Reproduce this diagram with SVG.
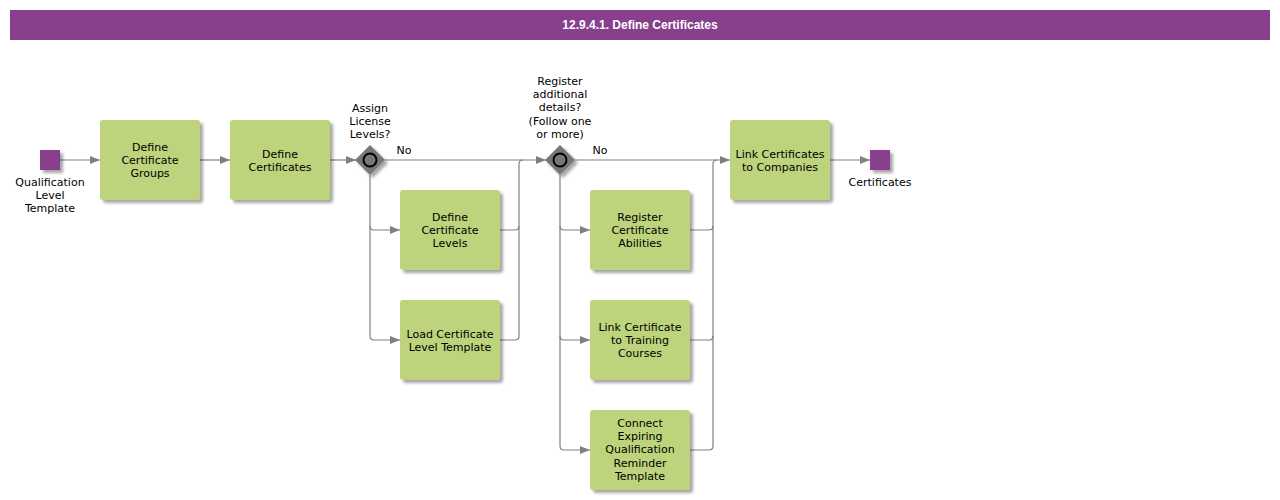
<svg xmlns="http://www.w3.org/2000/svg" width="1280" height="500" viewBox="0 0 1280 500">
<style>
text{font-family:"DejaVu Sans",Verdana,sans-serif;font-size:11px;fill:#000;text-anchor:middle}
.title{font-family:"Liberation Sans",Arial,sans-serif;font-weight:bold;font-size:12px;fill:#fff}
.task{fill:#bdd37b}
.ev{fill:#883f8c}
.gw{fill:#777}
.con{fill:none;stroke:#808080;stroke-width:1.2}
</style>
<defs>
<filter id="sh" x="-20%" y="-20%" width="150%" height="150%">
<feDropShadow dx="3" dy="3" stdDeviation="1.5" flood-color="#000" flood-opacity="0.35"/>
</filter>
<marker id="arr" markerWidth="10" markerHeight="8" refX="10" refY="4" orient="auto" markerUnits="userSpaceOnUse">
<path d="M0,0 L10,4 L0,8 Z" fill="#808080"/>
</marker>
</defs>
<rect width="1280" height="500" fill="#fff"/>
<g id="title">
<rect x="10" y="10" width="1260" height="30" fill="#883f8c"/>
<text class="title" x="640" y="29">12.9.4.1. Define Certificates</text>
</g>
<g id="connectors">
<path class="con" d="M60,160 H100" marker-end="url(#arr)"/>
<path class="con" d="M200,160 H230" marker-end="url(#arr)"/>
<path class="con" d="M330,160 H356" marker-end="url(#arr)"/>
<path class="con" d="M385,160 H546" marker-end="url(#arr)"/>
<path class="con" d="M370,175 V226 Q370,230 374,230 H400" marker-end="url(#arr)"/>
<path class="con" d="M370,226 V336 Q370,340 374,340 H400" marker-end="url(#arr)"/>
<path class="con" d="M500,230 H515 Q519,230 519,226 V164 Q519,160 523,160"/>
<path class="con" d="M500,340 H515 Q519,340 519,336 V226"/>
<path class="con" d="M575,160 H730" marker-end="url(#arr)"/>
<path class="con" d="M560,175 V226 Q560,230 564,230 H590" marker-end="url(#arr)"/>
<path class="con" d="M560,226 V336 Q560,340 564,340 H590" marker-end="url(#arr)"/>
<path class="con" d="M560,336 V446 Q560,450 564,450 H590" marker-end="url(#arr)"/>
<path class="con" d="M690,230 H709 Q713,230 713,226 V164 Q713,160 717,160"/>
<path class="con" d="M690,340 H709 Q713,340 713,336 V226"/>
<path class="con" d="M690,450 H709 Q713,450 713,446 V336"/>
<path class="con" d="M830,160 H870" marker-end="url(#arr)"/>
<text x="404" y="154">No</text>
<text x="600" y="154">No</text>
</g>
<g id="start">
<rect class="ev" x="40" y="150" width="20" height="20" filter="url(#sh)"/>
<text x="50" y="186">Qualification</text>
<text x="50" y="199">Level</text>
<text x="50" y="212">Template</text>
</g>
<g id="t1">
<rect class="task" x="100" y="120" width="100" height="80" rx="3" filter="url(#sh)"/>
<text x="150" y="151">Define</text>
<text x="150" y="164">Certificate</text>
<text x="150" y="177">Groups</text>
</g>
<g id="t2">
<rect class="task" x="230" y="120" width="100" height="80" rx="3" filter="url(#sh)"/>
<text x="280" y="158">Define</text>
<text x="280" y="171">Certificates</text>
</g>
<g id="g1">
<path class="gw" d="M370,145 L385,160 L370,175 L355,160 Z" filter="url(#sh)"/>
<circle cx="370" cy="160" r="6.5" fill="none" stroke="#000" stroke-width="2"/>
<text x="370" y="112">Assign</text>
<text x="370" y="125">License</text>
<text x="370" y="138">Levels?</text>
</g>
<g id="t3">
<rect class="task" x="400" y="190" width="100" height="80" rx="3" filter="url(#sh)"/>
<text x="450" y="221">Define</text>
<text x="450" y="234">Certificate</text>
<text x="450" y="247">Levels</text>
</g>
<g id="t4">
<rect class="task" x="400" y="300" width="100" height="80" rx="3" filter="url(#sh)"/>
<text x="450" y="338">Load Certificate</text>
<text x="450" y="351">Level Template</text>
</g>
<g id="g2">
<path class="gw" d="M560,145 L575,160 L560,175 L545,160 Z" filter="url(#sh)"/>
<circle cx="560" cy="160" r="6.5" fill="none" stroke="#000" stroke-width="2"/>
<text x="560" y="85">Register</text>
<text x="560" y="98">additional</text>
<text x="560" y="111">details?</text>
<text x="560" y="125">(Follow one</text>
<text x="560" y="138">or more)</text>
</g>
<g id="t5">
<rect class="task" x="590" y="190" width="100" height="80" rx="3" filter="url(#sh)"/>
<text x="640" y="221">Register</text>
<text x="640" y="234">Certificate</text>
<text x="640" y="247">Abilities</text>
</g>
<g id="t6">
<rect class="task" x="590" y="300" width="100" height="80" rx="3" filter="url(#sh)"/>
<text x="640" y="331">Link Certificate</text>
<text x="640" y="344">to Training</text>
<text x="640" y="357">Courses</text>
</g>
<g id="t7">
<rect class="task" x="590" y="410" width="100" height="80" rx="3" filter="url(#sh)"/>
<text x="640" y="427">Connect</text>
<text x="640" y="440">Expiring</text>
<text x="640" y="453">Qualification</text>
<text x="640" y="467">Reminder</text>
<text x="640" y="480">Template</text>
</g>
<g id="t8">
<rect class="task" x="730" y="120" width="100" height="80" rx="3" filter="url(#sh)"/>
<text x="780" y="158">Link Certificates</text>
<text x="780" y="171">to Companies</text>
</g>
<g id="end">
<rect class="ev" x="870" y="150" width="20" height="20" filter="url(#sh)"/>
<text x="880" y="186">Certificates</text>
</g>
</svg>
